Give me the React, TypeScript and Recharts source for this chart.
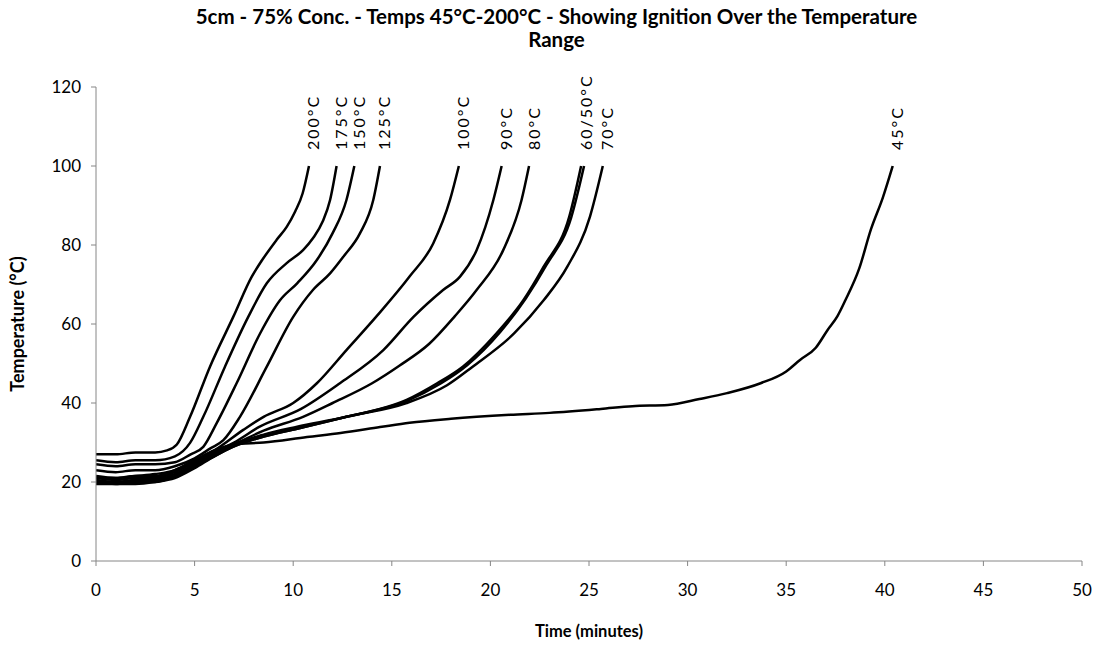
import React from 'react';
import { LineChart, Line, XAxis, YAxis } from 'recharts';

// [time (minutes), temperature (°C)]
const s200: [number, number][] = [[0,27],[1,27],[2,27.5],[3,27.5],[3.6,28],[4.1,29.5],[4.77,36.5],[5.78,49.2],[6.96,61.8],[7.9,72],[8.4,76],[9.16,81.3],[9.67,84.6],[10.1,88.5],[10.48,93.1],[10.8,100]];
const s175: [number, number][] = [[0,25.5],[1,25],[2,25.5],[3,25.5],[4,26.5],[4.77,29.9],[5.44,36.5],[6.54,49.2],[7.72,61.8],[8.66,70.3],[9.67,75.4],[10.5,78.7],[11.0,81.7],[11.5,86],[11.87,91.4],[12.2,100]];
const s150: [number, number][] = [[0,24.5],[1,24],[2,24.5],[3,24.5],[4,25],[4.8,27],[5.44,28.9],[6.12,34.9],[7.13,45],[8.32,57.6],[9.33,66],[10.2,70.3],[11.2,76.2],[12.0,83],[12.7,91.4],[13.1,100]];
const s125: [number, number][] = [[0,23],[1,22.5],[2,23],[3,23],[4,24],[5,26],[5.8,28.5],[6.46,30.6],[7.3,36.5],[8.66,49.2],[10.0,61.8],[11.0,68.6],[11.87,72.8],[12.54,77],[13.39,83],[14.06,91.4],[14.4,100]];
const s100: [number, number][] = [[0,21.5],[1,21],[2,21.5],[3,22],[4,23],[5,25.5],[6,28],[7.47,33.2],[8.5,36.5],[10.0,40],[11.2,45],[12.7,53.4],[14.2,61.8],[15.9,72],[17.1,80.4],[17.95,91.4],[18.4,100]];
const s90: [number, number][] = [[0,21],[1,20.5],[2,21],[3,21],[4,22.5],[5,25],[6,27.5],[7,30],[8.3,34],[10.4,38.5],[12.37,45],[14.57,53.4],[16.1,61.8],[17.6,68.6],[18.46,72],[19.3,78.7],[20.15,91.4],[20.57,100]];
const s80: [number, number][] = [[0,20.5],[1,20],[2,20.5],[3,20.5],[4,22],[5,24.5],[6,27],[7,29.5],[8.5,33],[10.5,36.5],[12,40],[14.0,45],[15.4,49.5],[16.9,55],[18.2,62],[19.3,68.6],[20.65,78.7],[21.58,91.4],[21.96,100]];
const s60: [number, number][] = [[0,20],[1,19.5],[2,20],[3,20],[4,21.5],[5,24],[6,27],[7,29.5],[8.5,32],[10.2,34],[12.7,36.5],[15.75,40.8],[17.3,45],[18.6,49.2],[20.3,57.6],[21.67,66],[22.7,74.5],[24.0,87.2],[24.6,100]];
const s50: [number, number][] = [[0,19.5],[1,19.5],[2,19.5],[3,20],[4,21],[5,23.5],[6,26.5],[7,29],[8.5,31.5],[10.2,33.5],[12.7,36.5],[15.75,40.5],[17.5,45],[18.8,49.5],[20.5,58],[21.8,66.5],[22.85,75],[24.1,87],[24.75,100]];
const s70: [number, number][] = [[0,20],[1,20],[2,20],[3,20.5],[4,21.5],[5,24],[6,26.5],[7,29],[8.5,31.5],[10.2,33.5],[12.7,36.5],[15.75,40],[17.8,44.5],[19.1,49.2],[21.2,57.6],[22.7,66],[23.9,74.5],[25.05,87.2],[25.7,100]];
const s45: [number, number][] = [[0,21],[1,21],[2,21.5],[3,21.5],[4,23],[5,25.5],[6,28],[7,29.5],[8.5,30],[10.7,31.4],[12.4,32.4],[14.4,33.9],[15.9,35],[18,36],[21,37],[23,37.5],[25.6,38.5],[27.2,39.2],[29,39.5],[30.6,41],[32,42.5],[33.7,45],[35,48],[35.7,50.9],[36.5,54],[37.1,58.5],[37.6,62],[38,66],[38.7,74],[39.3,84],[39.9,92],[40.4,100]];

const seriesData = [s200, s175, s150, s125, s100, s90, s80, s60, s50, s70, s45];
const seriesLabels = ['200°C', '175°C', '150°C', '125°C', '100°C', '90°C', '80°C', '60/50°C', '', '70°C', '45°C'];

const xTicks = [0, 5, 10, 15, 20, 25, 30, 35, 40, 45, 50];
const yTicks = [0, 20, 40, 60, 80, 100, 120];

const titleLine1 = '5cm - 75% Conc. - Temps 45°C-200°C - Showing Ignition Over the Temperature';
const titleLine2 = 'Range';
const xTitle = 'Time (minutes)';
const yTitle = 'Temperature (°C)';

const FONT = 'Lato, "Open Sans", sans-serif';
const AXIS = '#868686';

const makeLabel = (text: string, n: number, lastT: number) => (props: any) => {
  const { x, y, index, value } = props;
  const isLast = index !== undefined ? index === n - 1 : value === lastT;
  if (!isLast || !text || x == null || y == null) return <g />;
  const lx = x + 4;
  const ly = y - 16;
  return (
    <text
      x={lx}
      y={ly}
      transform={`rotate(-90 ${lx} ${ly})`}
      textAnchor="start"
      dominantBaseline="central"
      fontSize={16}
      letterSpacing={2}
      fontFamily={FONT}
      fill="#000"
    >
      {text}
    </text>
  );
};

export default function App() {
  return (
    <div style={{ position: 'absolute', left: 0, top: 0, width: 1107, height: 647, background: '#fff' }}>
      <div style={{ position: 'absolute', left: 0, top: 5, width: 1113, textAlign: 'center', fontFamily: FONT, fontWeight: 700, fontSize: 20.5, lineHeight: '23px', color: '#000' }}>
        <div>{titleLine1}</div>
        <div>{titleLine2}</div>
      </div>
      <LineChart width={1107} height={647} margin={{ top: 87, right: 25, bottom: 6, left: 16 }}>
        <XAxis
          type="number"
          dataKey="t"
          domain={[0, 50]}
          ticks={xTicks}
          allowDataOverflow
          height={80}
          stroke={AXIS}
          tickSize={5}
          tick={{ fontSize: 17, fill: '#000', fontFamily: FONT }}
          tickMargin={18}
        />
        <YAxis
          type="number"
          dataKey="T"
          domain={[0, 120]}
          ticks={yTicks}
          allowDataOverflow
          width={80}
          stroke={AXIS}
          tickSize={5}
          tick={{ fontSize: 17, fill: '#000', fontFamily: FONT }}
          tickMargin={10}
        />
        {seriesData.map((s, i) => {
          const data = s.map(([t, T]) => ({ t, T }));
          return (
            <Line
              key={i}
              data={data}
              dataKey="T"
              type="monotone"
              stroke="#000"
              strokeWidth={2.5}
              dot={false}
              isAnimationActive={false}
              label={makeLabel(seriesLabels[i], data.length, s[s.length - 1][1])}
            />
          );
        })}
      </LineChart>
      <div style={{ position: 'absolute', left: 489, top: 621, width: 200, textAlign: 'center', fontFamily: FONT, fontWeight: 700, fontSize: 16.5, color: '#000' }}>
        {xTitle}
      </div>
      <div style={{ position: 'absolute', left: 17, top: 324, width: 0, height: 0 }}>
        <div style={{ position: 'absolute', left: -100, top: -11, width: 200, textAlign: 'center', transform: 'rotate(-90deg)', fontFamily: FONT, fontWeight: 700, fontSize: 18, color: '#000', lineHeight: '22px' }}>
          {yTitle}
        </div>
      </div>
    </div>
  );
}
